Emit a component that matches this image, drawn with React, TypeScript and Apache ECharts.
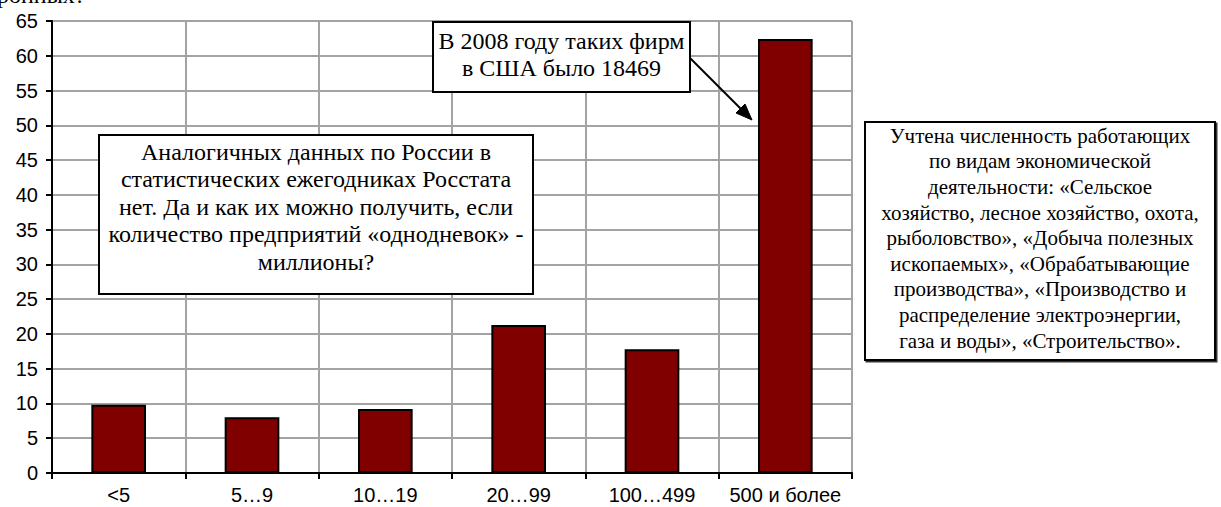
import React, { useEffect, useRef } from "react";
import * as echarts from "echarts";

const categories = ["<5", "5…9", "10…19", "20…99", "100…499", "500 и более"];
const values = [9.8, 8.0, 9.2, 21.3, 17.8, 62.4];
const yTicks = { min: 0, max: 65, interval: 5 };

const noteTop = "В 2008 году таких фирм\nв США было 18469";
const noteLeft =
  "Аналогичных данных по России в\nстатистических ежегодниках Росстата\nнет. Да и как их можно получить, если\nколичество предприятий «однодневок» -\nмиллионы?";
const noteRight =
  "Учтена численность работающих\nпо видам экономической\nдеятельности: «Сельское\nхозяйство, лесное хозяйство, охота,\nрыболовство», «Добыча полезных\nископаемых», «Обрабатывающие\nпроизводства», «Производство и\nраспределение электроэнергии,\nгаза и воды», «Строительство».";
const clippedHeading = "ронных?";

const SERIF = '"Liberation Serif", "Times New Roman", serif';
const SANS = '"Liberation Sans", Arial, sans-serif';

export default function App() {
  const ref = useRef<HTMLDivElement>(null);

  useEffect(() => {
    document.body.style.margin = "0";
    const chart = echarts.init(ref.current!, null, { renderer: "svg" });
    const gridColor = "#a3a3a3";
    chart.setOption({
      animation: false,
      backgroundColor: "#ffffff",
      grid: { left: 52, right: 369, top: 21, bottom: 34, containLabel: false },
      xAxis: {
        type: "category",
        data: categories,
        boundaryGap: true,
        axisLine: { show: true, lineStyle: { color: "#000", width: 2 } },
        axisTick: { show: true, length: 6, inside: false, lineStyle: { color: "#000", width: 2 } },
        axisLabel: { color: "#000", fontFamily: SANS, fontSize: 20, margin: 12, interval: 0 },
        splitLine: { show: true, lineStyle: { color: gridColor, width: 2 } },
      },
      yAxis: {
        type: "value",
        min: yTicks.min,
        max: yTicks.max,
        interval: yTicks.interval,
        axisLine: { show: true, lineStyle: { color: "#000", width: 2 } },
        axisTick: { show: true, length: 6, inside: false, lineStyle: { color: "#000", width: 2 } },
        axisLabel: { color: "#000", fontFamily: SANS, fontSize: 20, margin: 14 },
        splitLine: { show: true, lineStyle: { color: gridColor, width: 2 } },
      },
      series: [
        {
          type: "bar",
          data: values,
          barWidth: "41%",
          itemStyle: { color: "#800000", borderColor: "#000", borderWidth: 2 },
        },
      ],
      graphic: [
        {
          type: "text",
          x: -3,
          y: -17,
          z: 100,
          style: { text: clippedHeading, font: `24px ${SERIF}`, fill: "#000", textVerticalAlign: "top" },
        },
        {
          type: "rect",
          z: 100,
          shape: { x: 433, y: 22, width: 257, height: 70 },
          style: { fill: "#fff", stroke: "#000", lineWidth: 2 },
        },
        {
          type: "text",
          z: 101,
          x: 561.5,
          y: 27,
          style: {
            text: noteTop,
            font: `24px ${SERIF}`,
            fill: "#000",
            textAlign: "center",
            textVerticalAlign: "top",
            lineHeight: 27,
          },
        },
        {
          type: "line",
          z: 100,
          shape: { x1: 690, y1: 58, x2: 745, y2: 113 },
          style: { stroke: "#000", lineWidth: 2 },
        },
        {
          type: "polygon",
          z: 100,
          shape: { points: [[752, 120], [736, 113], [745, 104]] },
          style: { fill: "#000", stroke: "#000", lineWidth: 1 },
        },
        {
          type: "rect",
          z: 100,
          shape: { x: 99, y: 135, width: 434, height: 159 },
          style: { fill: "#fff", stroke: "#000", lineWidth: 2 },
        },
        {
          type: "text",
          z: 101,
          x: 316,
          y: 138,
          style: {
            text: noteLeft,
            font: `24px ${SERIF}`,
            fill: "#000",
            textAlign: "center",
            textVerticalAlign: "top",
            lineHeight: 27.5,
          },
        },
        {
          type: "rect",
          z: 100,
          shape: { x: 865, y: 122, width: 350, height: 238 },
          style: {
            fill: "#fff",
            stroke: "#000",
            lineWidth: 2,
            shadowColor: "rgba(0,0,0,0.8)",
            shadowOffsetX: 1.5,
            shadowOffsetY: 1.5,
            shadowBlur: 0,
          },
        },
        {
          type: "text",
          z: 101,
          x: 1040,
          y: 123,
          style: {
            text: noteRight,
            font: `21px ${SERIF}`,
            fill: "#000",
            textAlign: "center",
            textVerticalAlign: "top",
            lineHeight: 25.6,
          },
        },
      ],
    });
    return () => chart.dispose();
  }, []);

  return <div ref={ref} style={{ width: 1221, height: 507 }} />;
}
